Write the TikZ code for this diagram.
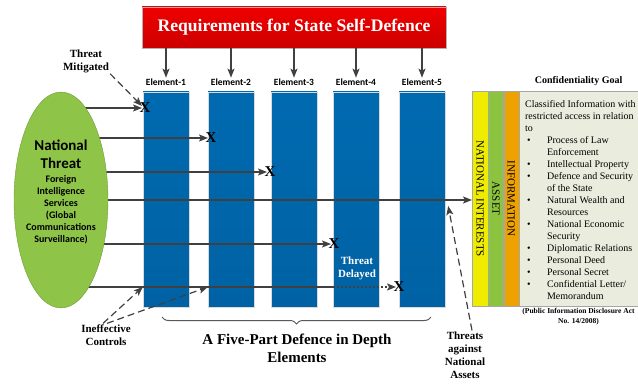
\documentclass[tikz,border=0pt]{standalone}
\usepackage{fontspec}
\setmainfont{Liberation Serif}
\newfontfamily\calibri{Carlito}
\usetikzlibrary{calc,positioning,shapes.geometric,arrows.meta,decorations.pathreplacing}
\definecolor{barblue}{RGB}{0,98,164}
\definecolor{barbluetop}{RGB}{0,106,176}
\definecolor{reqred}{RGB}{240,0,0}
\definecolor{reqreddark}{RGB}{204,0,0}
\definecolor{threatgreen}{RGB}{142,196,72}
\definecolor{stripyellow}{RGB}{240,236,0}
\definecolor{stripgreen}{RGB}{140,196,64}
\definecolor{striporange}{RGB}{238,162,0}
\definecolor{panelgrey}{RGB}{234,237,222}
\definecolor{arrowgrey}{RGB}{64,64,64}
\pgfdeclarelayer{front}
\pgfsetlayers{main,front}
\newcommand\confbullet{\makebox[22pt][l]{\hspace{2pt}\textbullet}}
\newcommand\confindent{\hspace*{22pt}}

\begin{document}
\begin{tikzpicture}[x=1pt,y=1pt,every node/.style={inner sep=1pt},
  arr/.style={draw=arrowgrey,line width=1.2pt,-{Stealth[length=9pt,width=7pt,inset=2pt]}},
  dasharr/.style={arr,dash pattern=on 7pt off 4pt},
  bar/.style={rectangle,draw=black!15,line width=0.4pt,top color=barbluetop,bottom color=barblue,
    minimum width=46pt,minimum height=215pt,inner sep=0pt},
  elemlabel/.style={font=\calibri\bfseries\fontsize{9.5}{11}\selectfont},
  xmark/.style={font=\bfseries\fontsize{15}{15}\selectfont,inner sep=0pt},
  note/.style={font=\bfseries\fontsize{11}{13}\selectfont,align=center},
  strip/.style={rectangle,draw=black!35,line width=0.3pt,minimum height=215pt,inner sep=0pt,anchor=north west}]
  \useasboundingbox (0,0) rectangle (638,-385);

  \node [rectangle,draw=black!30,top color=reqred,bottom color=reqreddark,minimum width=304pt,
    minimum height=41pt,text=white,font=\bfseries\fontsize{17.6}{20}\selectfont]
    (req) at (294,-27.5) {Requirements for State Self-Defence};

  \foreach \i/\x in {1/166,2/231,3/294,4/356,5/422} {
    \node [bar] (e\i) at (\x,-199.5) {};
    \node [elemlabel,above=5pt of e\i] (lab\i) {Element-\i};
    \draw [arr] (req.south -| lab\i) -- (lab\i.north);
  }

  \begin{pgfonlayer}{front}
    \node [ellipse,fill=threatgreen,draw=threatgreen!80!black,minimum width=94pt,
      minimum height=216pt,inner sep=0pt] (threat) at (61,-200) {};
    \node [font=\calibri\bfseries\fontsize{10}{12}\selectfont,align=center] (threattxt) at (61,-192)
      {{\fontsize{15}{18}\selectfont National}\\[6pt]{\fontsize{15}{18}\selectfont Threat}\\[2pt]
       Foreign\\Intelligence\\Services\\(Global\\Communications\\Surveillance)};
  \end{pgfonlayer}

  % right hand panel
  \node [strip,fill=stripyellow,minimum width=16pt,
    label={[rotate=-90,font=\fontsize{11}{13}\selectfont]center:NATIONAL INTERESTS}] (natint) at (472,-91) {};
  \node [strip,fill=stripgreen,minimum width=15pt,
    label={[rotate=-90,font=\fontsize{11}{13}\selectfont]center:ASSET}] (asset) at (natint.north east) {};
  \node [strip,fill=striporange,minimum width=15pt,
    label={[rotate=-90,font=\fontsize{11}{13}\selectfont]center:INFORMATION}] (info) at (asset.north east) {};
  \node [strip,fill=panelgrey,minimum width=119pt] (panel) at (info.north east) {};
  \node [anchor=north west,align=left,font=\fontsize{10}{12}\selectfont] (conftext)
    at ([shift={(5pt,-8pt)}]panel.north west) {%
    Classified Information with\\restricted access in relation\\to\\
    \confbullet Process of Law\\\confindent Enforcement\\
    \confbullet Intellectual Property\\
    \confbullet Defence and Security\\\confindent of the State\\
    \confbullet Natural Wealth and\\\confindent Resources\\
    \confbullet National Economic\\\confindent Security\\
    \confbullet Diplomatic Relations\\
    \confbullet Personal Deed\\
    \confbullet Personal Secret\\
    \confbullet Confidential Letter/\\\confindent Memorandum};
  \node [font=\bfseries\fontsize{10}{12}\selectfont,above=4pt of panel] (goal) {Confidentiality Goal};
  \node [font=\bfseries\fontsize{7.5}{9.5}\selectfont,align=center,below=1pt of panel] (pida)
    {(Public Information Disclosure Act\\No. 14/2008)};

  % threats
  \node [xmark] (x1) at (145,-108) {X};
  \node [xmark] (x2) at (211,-138) {X};
  \node [xmark] (x3) at (270,-172) {X};
  \node [xmark] (x5) at (334,-244) {X};
  \node [xmark] (x6) at (399,-287) {X};

  \draw [arr] (threat.center |- x1) -- ([xshift=-3pt]x1.center);
  \draw [arr] (threat.center |- x2) -- ([xshift=-3pt]x2.center);
  \draw [arr] (threat.center |- x3) -- ([xshift=-3pt]x3.center);
  \draw [arr] (threat.center) -- (threat.center -| natint.west);
  \draw [arr] (threat.center |- x5) -- ([xshift=-3pt]x5.center);

  \coordinate (delaystart) at (e4.west |- x6);
  \draw [draw=arrowgrey,line width=1.2pt] (threat.center |- x6) -- (delaystart);
  \draw [arr,dash pattern=on 2pt off 2pt] (delaystart) -- ([xshift=-3pt]x6.center); % delayed part

  \node [note,white] (delayed) at (357,-268) {Threat\\Delayed};

  \node [note] (mitig) at (86,-61) {Threat\\Mitigated};
  \draw [dasharr] (mitig.south east) -- ([shift={(-3pt,2pt)}]x1.center);

  \node [note] (ineff) at (106,-335) {Ineffective\\Controls};
  \draw [dasharr] ([xshift=-3pt]ineff.north) -- (e1.west |- x6);
  \draw [dasharr] ([xshift=1pt]ineff.north) -- (e2.west |- x6);

  \node [note] (tana) at (465,-355) {Threats\\against\\National\\Assets};
  \coordinate (breach) at ($(e5.east |- threat.center)+(3,-6)$);
  \draw [dasharr] ([xshift=7pt]tana.north) -- (breach);

  \draw [decorate,decoration={brace,mirror,amplitude=7pt},draw=black!65,line width=1pt]
    (162,-317) -- (431,-317);
  \node [font=\bfseries\fontsize{15}{18}\selectfont,align=center] (fivepart) at (297,-348)
    {A Five-Part Defence in Depth\\Elements};

\end{tikzpicture}
\end{document}
